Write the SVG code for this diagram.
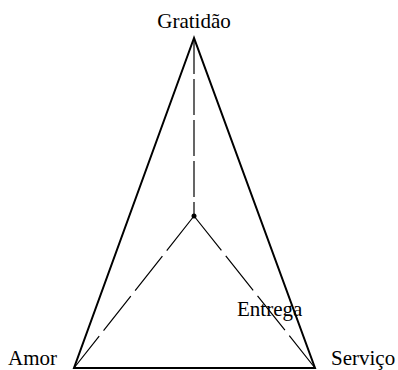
<svg xmlns="http://www.w3.org/2000/svg" width="398" height="370" viewBox="0 0 398 370">
<style>
.lbl{font-family:"Liberation Serif","Times New Roman",serif;font-size:21px;fill:#000}
.edge{stroke:#000;stroke-width:2;fill:none;stroke-linecap:round}
.dash{stroke:#000;stroke-width:1.2;fill:none;stroke-dasharray:44 7}
</style>
<rect width="398" height="370" fill="#fff"/>
<g id="connectors">
<path class="edge" d="M194,38 L74,368 L315,368 Z" stroke-linejoin="miter"/>
<line class="dash" x1="194" y1="38" x2="194" y2="216" style="stroke-dasharray:36 5"/>
<line class="dash" x1="194" y1="216" x2="74" y2="368"/>
<line class="dash" x1="194" y1="216" x2="315" y2="368"/>
</g>
<g id="gratidao"><text class="lbl" x="194" y="28" text-anchor="middle">Gratidão</text></g>
<g id="amor"><text class="lbl" x="8" y="365">Amor</text></g>
<g id="servico"><text class="lbl" x="331" y="365">Serviço</text></g>
<g id="entrega"><text class="lbl" x="237" y="316">Entrega</text></g>
<g id="centro"><circle cx="194" cy="216" r="2.5" fill="#000"/></g>
</svg>
